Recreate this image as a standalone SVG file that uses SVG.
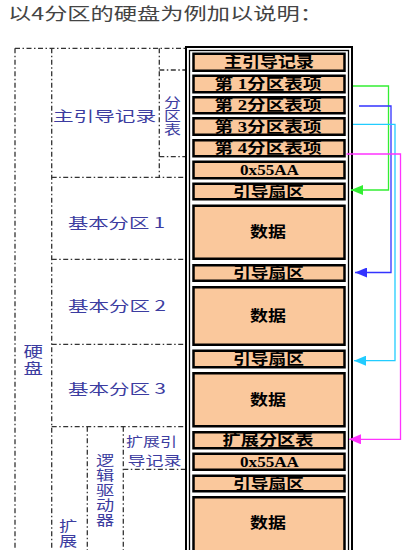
<svg xmlns="http://www.w3.org/2000/svg" width="411" height="550" viewBox="0 0 411 550">
<style>
.cell rect{fill:#fac89c;stroke:#000;stroke-width:2.5}
.cell text{font-family:"Liberation Serif","Noto Sans CJK SC",serif;font-weight:bold;font-size:15px;fill:#000;text-anchor:middle;dominant-baseline:central}
.lbl text{font-family:"Noto Sans CJK SC",sans-serif;font-size:14px;fill:#3c3ca0;dominant-baseline:central}
.lbl text.v{writing-mode:vertical-rl;text-anchor:start}
.lbl text.s{font-size:13px}
.dd{fill:none;stroke:#333;stroke-width:1.3;stroke-dasharray:5,2.5,1.5,2.5}
.con{fill:none;stroke-width:1.3}
</style>
<defs>
<marker id="ag" markerUnits="userSpaceOnUse" markerWidth="12" markerHeight="10" refX="12" refY="5" orient="auto"><path d="M0,0 L12,5 L0,10 z" fill="#33ee33"/></marker>
<marker id="ab" markerUnits="userSpaceOnUse" markerWidth="12" markerHeight="10" refX="12" refY="5" orient="auto"><path d="M0,0 L12,5 L0,10 z" fill="#3333ff"/></marker>
<marker id="ac" markerUnits="userSpaceOnUse" markerWidth="12" markerHeight="10" refX="12" refY="5" orient="auto"><path d="M0,0 L12,5 L0,10 z" fill="#22ccff"/></marker>
<marker id="am" markerUnits="userSpaceOnUse" markerWidth="12" markerHeight="10" refX="12" refY="5" orient="auto"><path d="M0,0 L12,5 L0,10 z" fill="#ff33ff"/></marker>
</defs>
<rect width="411" height="550" fill="#fff"/>
<text x="8" y="12.5" font-family="Noto Sans CJK SC, sans-serif" font-size="17" fill="#444" dominant-baseline="central" textLength="315" lengthAdjust="spacingAndGlyphs">以4分区的硬盘为例加以说明：</text>

<g id="layout-lines">
<path class="dd" d="M15,48.3 H185 M15,48.3 V550 M51.7,48.3 V550 M159.3,48.3 V177.3 M159.3,70 H185 M159.3,156.7 H185 M51.7,177.3 H185 M51.7,259.3 H185 M51.7,344.3 H185 M51.7,426.7 H185 M87.3,426.7 V550 M123.3,426.7 V550 M123.3,469.3 H185"/>
</g>

<g id="labels" class="lbl">
<g id="lbl-mbr"><text x="53" y="115" textLength="103" lengthAdjust="spacingAndGlyphs">主引导记录</text></g>
<g id="lbl-ptable" transform="translate(172.5,0) scale(1.3,1) translate(-172.5,0)"><text class="v" x="172.5" y="95.2" style="font-size:13px;letter-spacing:0.8px">分区表</text></g>
<g id="lbl-p1"><text x="68" y="221.7" textLength="97" lengthAdjust="spacingAndGlyphs">基本分区 1</text></g>
<g id="lbl-p2"><text x="68" y="305" textLength="98" lengthAdjust="spacingAndGlyphs">基本分区 2</text></g>
<g id="lbl-p3"><text x="68" y="388" textLength="98" lengthAdjust="spacingAndGlyphs">基本分区 3</text></g>
<g id="lbl-disk" transform="translate(33.3,0) scale(1.3,1) translate(-33.3,0)"><text class="v" x="33.3" y="344.2" style="font-size:15px;letter-spacing:1.6px">硬盘</text></g>
<g id="lbl-ebr"><text class="s" x="126" y="440.6" textLength="51" lengthAdjust="spacingAndGlyphs">扩展引</text><text class="s" x="127.5" y="459.4" textLength="54" lengthAdjust="spacingAndGlyphs">导记录</text></g>
<g id="lbl-logical" transform="translate(105,0) scale(1.3,1) translate(-105,0)"><text class="v" x="105" y="453" style="font-size:14px;letter-spacing:1px">逻辑驱动器</text></g>
<g id="lbl-ext" transform="translate(68,0) scale(1.3,1) translate(-68,0)"><text class="v" x="68" y="519" style="font-size:14px;letter-spacing:0.5px">扩展</text></g>
</g>

<g id="frame">
<rect x="186" y="47" width="166" height="520" fill="#fff" stroke="#000" stroke-width="2"/>
<rect x="189.5" y="50.5" width="159" height="520" fill="none" stroke="#000" stroke-width="1.3"/>
</g>

<g id="cell-mbr" class="cell"><rect x="193.5" y="53.75" width="151" height="17"/><text x="269" y="62.25" textLength="90" lengthAdjust="spacingAndGlyphs">主引导记录</text></g>
<g id="cell-pe1" class="cell"><rect x="193.5" y="75.75" width="151" height="16.5"/><text x="268" y="84" textLength="107" lengthAdjust="spacingAndGlyphs">第 1分区表项</text></g>
<g id="cell-pe2" class="cell"><rect x="193.5" y="97.25" width="151" height="16"/><text x="268" y="105.25" textLength="107" lengthAdjust="spacingAndGlyphs">第 2分区表项</text></g>
<g id="cell-pe3" class="cell"><rect x="193.5" y="118.25" width="151" height="16.5"/><text x="268" y="126.5" textLength="107" lengthAdjust="spacingAndGlyphs">第 3分区表项</text></g>
<g id="cell-pe4" class="cell"><rect x="193.5" y="140.25" width="151" height="16"/><text x="268" y="148.25" textLength="107" lengthAdjust="spacingAndGlyphs">第 4分区表项</text></g>
<g id="cell-sig1" class="cell"><rect x="193.5" y="161.75" width="151" height="16.5"/><text x="269.5" y="170" textLength="59" lengthAdjust="spacingAndGlyphs">0x55AA</text></g>
<g id="cell-boot1" class="cell"><rect x="193.5" y="183.75" width="151" height="15.5"/><text x="268.5" y="191.5" textLength="71" lengthAdjust="spacingAndGlyphs">引导扇区</text></g>
<g id="cell-data1" class="cell"><rect x="193.5" y="205.75" width="151" height="53"/><text x="268" y="232.25" textLength="36" lengthAdjust="spacingAndGlyphs">数据</text></g>
<g id="cell-boot2" class="cell"><rect x="193.5" y="265.25" width="151" height="15.5"/><text x="268.5" y="273" textLength="71" lengthAdjust="spacingAndGlyphs">引导扇区</text></g>
<g id="cell-data2" class="cell"><rect x="193.5" y="287.25" width="151" height="57.5"/><text x="268" y="316" textLength="36" lengthAdjust="spacingAndGlyphs">数据</text></g>
<g id="cell-boot3" class="cell"><rect x="193.5" y="350.75" width="151" height="16.5"/><text x="268.5" y="359" textLength="71" lengthAdjust="spacingAndGlyphs">引导扇区</text></g>
<g id="cell-data3" class="cell"><rect x="193.5" y="373.25" width="151" height="53"/><text x="268" y="399.75" textLength="36" lengthAdjust="spacingAndGlyphs">数据</text></g>
<g id="cell-ept" class="cell"><rect x="193.5" y="432.25" width="151" height="16"/><text x="268" y="440.25" textLength="91" lengthAdjust="spacingAndGlyphs">扩展分区表</text></g>
<g id="cell-sig2" class="cell"><rect x="193.5" y="453.75" width="151" height="16"/><text x="269.5" y="461.75" textLength="59" lengthAdjust="spacingAndGlyphs">0x55AA</text></g>
<g id="cell-boot4" class="cell"><rect x="193.5" y="475.75" width="151" height="15.5"/><text x="268.5" y="483.5" textLength="71" lengthAdjust="spacingAndGlyphs">引导扇区</text></g>
<g id="cell-data4" class="cell"><rect x="193.5" y="497.25" width="151" height="70"/><text x="268" y="523.3" textLength="36" lengthAdjust="spacingAndGlyphs">数据</text></g>

<g id="connectors">
<path class="con" d="M353,86 H388.5 V190 H351" stroke="#33ee33" marker-end="url(#ag)"/>
<path class="con" d="M359,106 H391 V272.5 H355" stroke="#3333ff" marker-end="url(#ab)"/>
<path class="con" d="M353,124.3 H395 V360.7 H354" stroke="#22ccff" marker-end="url(#ac)"/>
<path class="con" d="M346.5,154 H400.5 V439.3 H349" stroke="#ff33ff" marker-end="url(#am)"/>
</g>
</svg>
